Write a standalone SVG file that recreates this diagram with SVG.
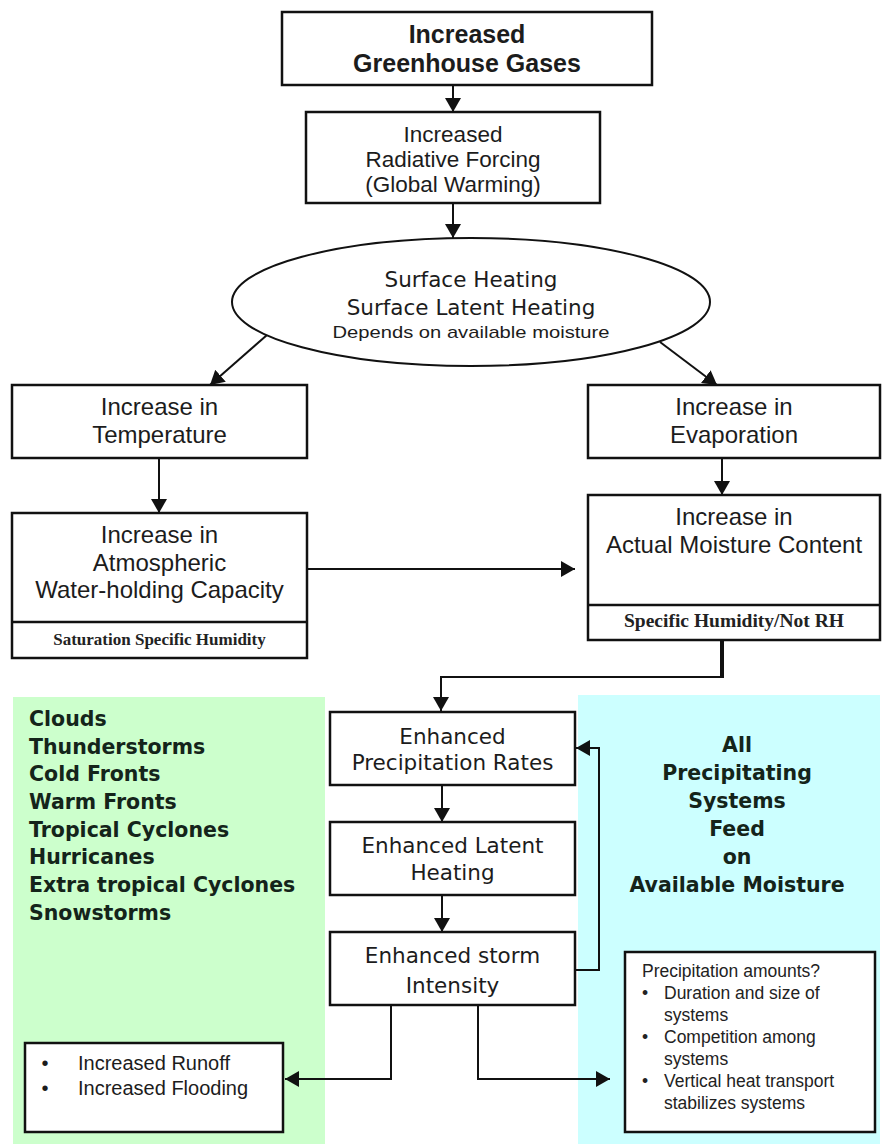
<svg xmlns="http://www.w3.org/2000/svg" width="882" height="1144" viewBox="0 0 882 1144">
<style>
.box{fill:#fff;stroke:#111;stroke-width:2.5}
.ln{fill:none;stroke:#111;stroke-width:2}
.a{font-family:"Liberation Sans",Arial,sans-serif;fill:#1c1c1c;text-anchor:middle}
.ab{font-family:"Liberation Sans",Arial,sans-serif;font-weight:bold;fill:#1c1c1c;text-anchor:middle}
.d{font-family:"DejaVu Sans",Verdana,sans-serif;fill:#1c1c1c;text-anchor:middle}
.db{font-family:"DejaVu Sans",Verdana,sans-serif;font-weight:bold;fill:#14241a}
.s{font-family:"Liberation Serif","Times New Roman",serif;font-weight:bold;fill:#222;text-anchor:middle}
.sm{font-family:"Liberation Sans",Arial,sans-serif;fill:#222;font-size:17.5px}
</style>
<defs>
<marker id="ah" viewBox="0 0 14 16" refX="14" refY="8" markerWidth="14" markerHeight="16" markerUnits="userSpaceOnUse" orient="auto">
<path d="M0,0 L14,8 L0,16 z" fill="#111"/>
</marker>
</defs>
<rect width="882" height="1144" fill="#fff"/>
<g id="bg-green"><rect x="13" y="697" width="312" height="447" fill="#ccffcc"/></g>
<g id="bg-cyan"><rect x="578" y="695" width="302" height="449" fill="#ccffff"/></g>

<g id="connectors">
<line class="ln" x1="453" y1="85" x2="453" y2="112" marker-end="url(#ah)"/>
<line class="ln" x1="453" y1="203" x2="453" y2="238" marker-end="url(#ah)"/>
<line class="ln" x1="267" y1="335" x2="210" y2="385" marker-end="url(#ah)"/>
<line class="ln" x1="660" y1="342" x2="717" y2="385" marker-end="url(#ah)"/>
<line class="ln" x1="159" y1="458" x2="159" y2="513" marker-end="url(#ah)"/>
<line class="ln" x1="722" y1="458" x2="722" y2="495" marker-end="url(#ah)"/>
<line class="ln" x1="307" y1="569" x2="575" y2="569" marker-end="url(#ah)"/>
<line x1="722" y1="640" x2="722" y2="678" stroke="#111" stroke-width="4"/>
<polyline class="ln" points="722,677 441,677 441,711" marker-end="url(#ah)"/>
<line class="ln" x1="442" y1="785" x2="442" y2="822" marker-end="url(#ah)"/>
<line class="ln" x1="442" y1="895" x2="442" y2="932" marker-end="url(#ah)"/>
<polyline class="ln" points="575,970 599,970 599,748 576,748" marker-end="url(#ah)"/>
<polyline class="ln" points="391,1005 391,1079 285,1079" marker-end="url(#ah)"/>
<polyline class="ln" points="478,1005 478,1079 610,1079" marker-end="url(#ah)"/>
</g>

<g id="n-ghg">
<rect class="box" x="282" y="12" width="370" height="73"/>
<text class="ab" x="467" y="43" font-size="25">Increased</text>
<text class="ab" x="467" y="72" font-size="25">Greenhouse Gases</text>
</g>

<g id="n-forcing">
<rect class="box" x="306" y="112" width="294" height="91"/>
<text class="a" x="453" y="142" font-size="22.5">Increased</text>
<text class="a" x="453" y="167" font-size="22.5">Radiative Forcing</text>
<text class="a" x="453" y="192" font-size="22.5">(Global Warming)</text>
</g>

<g id="n-surface">
<ellipse cx="471" cy="302" rx="239" ry="64" fill="#fff" stroke="#111" stroke-width="2"/>
<text class="d" x="471" y="287" font-size="21.5">Surface Heating</text>
<text class="d" x="471" y="315" font-size="21.5">Surface Latent Heating</text>
<text class="a" x="471" y="338" font-size="17" textLength="277" lengthAdjust="spacingAndGlyphs">Depends on available moisture</text>
</g>

<g id="n-temp">
<rect class="box" x="12" y="385" width="295" height="73"/>
<text class="a" x="159.5" y="415" font-size="24">Increase in</text>
<text class="a" x="159.5" y="443" font-size="24">Temperature</text>
</g>

<g id="n-evap">
<rect class="box" x="588" y="385" width="292" height="73"/>
<text class="a" x="734" y="415" font-size="24">Increase in</text>
<text class="a" x="734" y="443" font-size="24">Evaporation</text>
</g>

<g id="n-capacity">
<rect class="box" x="12" y="513" width="295" height="145"/>
<line class="box" x1="12" y1="622" x2="307" y2="622"/>
<text class="a" x="159.5" y="543" font-size="24">Increase in</text>
<text class="a" x="159.5" y="571" font-size="24">Atmospheric</text>
<text class="a" x="159.5" y="598" font-size="24">Water-holding Capacity</text>
<text class="s" x="159.5" y="645" font-size="17">Saturation Specific Humidity</text>
</g>

<g id="n-moisture">
<rect class="box" x="588" y="495" width="292" height="145"/>
<line class="box" x1="588" y1="605" x2="880" y2="605"/>
<text class="a" x="734" y="525" font-size="24">Increase in</text>
<text class="a" x="734" y="553" font-size="24">Actual Moisture Content</text>
<text class="s" x="734" y="627" font-size="18.5" textLength="220" lengthAdjust="spacingAndGlyphs">Specific Humidity/Not RH</text>
</g>

<g id="n-systems-list">
<text class="db" x="29" y="726" font-size="20.5">Clouds</text>
<text class="db" x="29" y="754" font-size="20.5">Thunderstorms</text>
<text class="db" x="29" y="781" font-size="20.5">Cold Fronts</text>
<text class="db" x="29" y="809" font-size="20.5">Warm Fronts</text>
<text class="db" x="29" y="837" font-size="20.5">Tropical Cyclones</text>
<text class="db" x="29" y="864" font-size="20.5">Hurricanes</text>
<text class="db" x="29" y="892" font-size="20.5">Extra tropical Cyclones</text>
<text class="db" x="29" y="920" font-size="20.5">Snowstorms</text>
</g>

<g id="n-feed">
<text class="db" x="737" y="752" font-size="20.5" text-anchor="middle">All</text>
<text class="db" x="737" y="780" font-size="20.5" text-anchor="middle">Precipitating</text>
<text class="db" x="737" y="808" font-size="20.5" text-anchor="middle">Systems</text>
<text class="db" x="737" y="836" font-size="20.5" text-anchor="middle">Feed</text>
<text class="db" x="737" y="864" font-size="20.5" text-anchor="middle">on</text>
<text class="db" x="737" y="892" font-size="20.5" text-anchor="middle">Available Moisture</text>
</g>

<g id="n-precip-rates">
<rect class="box" x="330" y="712" width="245" height="73"/>
<text class="d" x="452.5" y="744" font-size="21.5">Enhanced</text>
<text class="d" x="452.5" y="770" font-size="21.5">Precipitation Rates</text>
</g>

<g id="n-latent">
<rect class="box" x="330" y="822" width="245" height="73"/>
<text class="d" x="452.5" y="853" font-size="21.5">Enhanced Latent</text>
<text class="d" x="452.5" y="880" font-size="21.5">Heating</text>
</g>

<g id="n-storm">
<rect class="box" x="330" y="932" width="245" height="73"/>
<text class="d" x="452.5" y="963" font-size="21.5">Enhanced storm</text>
<text class="d" x="452.5" y="993" font-size="21.5">Intensity</text>
</g>

<g id="n-runoff">
<rect class="box" x="25" y="1043" width="258" height="89"/>
<text class="a" x="45" y="1070" font-size="20">•</text>
<text class="a" x="45" y="1095" font-size="20">•</text>
<text x="78" y="1070" font-size="20" font-family="Liberation Sans, Arial, sans-serif" fill="#1c1c1c">Increased Runoff</text>
<text x="78" y="1095" font-size="20" font-family="Liberation Sans, Arial, sans-serif" fill="#1c1c1c">Increased Flooding</text>
</g>

<g id="n-amounts">
<rect class="box" x="625" y="952" width="250" height="180"/>
<text class="sm" x="642" y="977">Precipitation amounts?</text>
<text class="sm" x="642" y="999">•</text>
<text class="sm" x="664" y="999">Duration and size of</text>
<text class="sm" x="664" y="1021">systems</text>
<text class="sm" x="642" y="1043">•</text>
<text class="sm" x="664" y="1043">Competition among</text>
<text class="sm" x="664" y="1065">systems</text>
<text class="sm" x="642" y="1087">•</text>
<text class="sm" x="664" y="1087">Vertical heat transport</text>
<text class="sm" x="664" y="1109">stabilizes systems</text>
</g>
</svg>
